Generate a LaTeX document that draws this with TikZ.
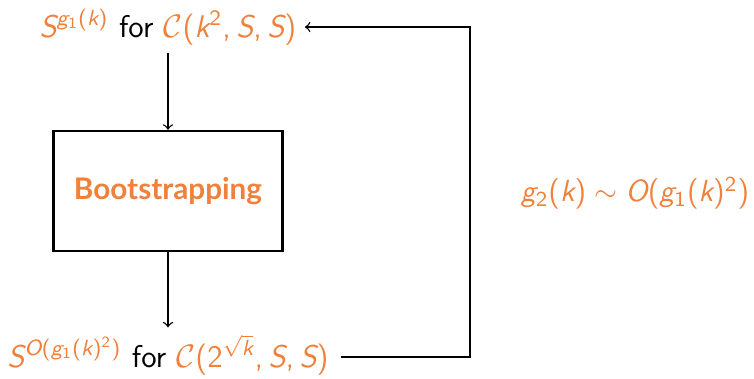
\documentclass[tikz,border=0pt]{standalone}
\usepackage[no-math]{fontspec}
\newfontfamily\latofont{Lato}
\DeclareSymbolFont{operators}{TU}{lmss}{m}{n}
\SetSymbolFont{operators}{normal}{TU}{lmss}{m}{n}
\SetSymbolFont{letters}{normal}{TU}{lmss}{m}{sl}
\AtBeginDocument{\mathcode`\,="602C}
\usetikzlibrary{calc}
\definecolor{orng}{RGB}{240,128,58}
\begin{document}
\begin{tikzpicture}[x=0.37pt,y=-0.37pt,
  txt/.style={inner sep=0pt, font=\fontsize{11.6}{13}\selectfont\sffamily},
  boxst/.style={draw, line width=0.9pt, minimum width=229*0.37pt, minimum height=120*0.37pt, inner sep=0pt},
  arr/.style={->, line width=0.5pt}]
\useasboundingbox (0,0) rectangle (754,378);
\node[txt] (top) at (168,27) {$\color{orng}S^{g_1(k)}$ for $\color{orng}\mathcal{C}(k^2,S,S)$};
\node[boxst] (box) at (168,191) {\fontsize{11}{13}\selectfont\latofont\bfseries\color{orng}Bootstrapping};
\node[txt] (bot) at (168,355) {$\color{orng}S^{O(g_1(k)^2)}$ for $\color{orng}\mathcal{C}(2^{\sqrt{k}},S,S)$};
\node[txt, font=\fontsize{11.3}{13}\selectfont\sffamily] (lab) at (635,193) {$\color{orng}g_2(k)\sim O(g_1(k)^2)$};
\coordinate (corner) at (470,357);
\draw[arr] ([yshift=-7*0.37pt]top.south) -- (box.north);
\draw[arr] (box.south) -- ([yshift=7*0.37pt]bot.north);
\draw[arr] ([xshift=12*0.37pt]bot.east |- corner) -- (corner) |- ([xshift=8*0.37pt]top.east);
\end{tikzpicture}
\end{document}
